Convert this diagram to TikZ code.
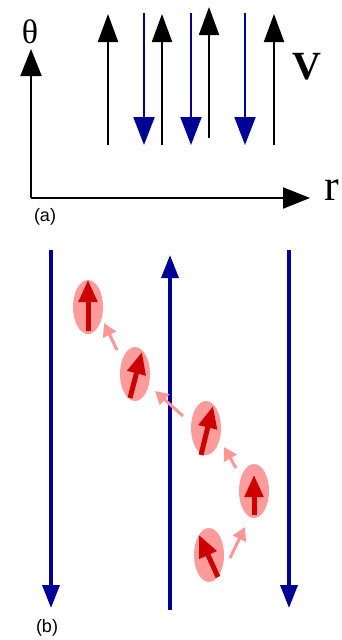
\documentclass[tikz,border=0pt]{standalone}
\usepackage{fontspec}
\setmainfont{Liberation Serif}
\newfontfamily\panelfont{Liberation Sans}
\usetikzlibrary{arrows.meta, shapes.geometric, calc}
\definecolor{fieldblue}{RGB}{0,0,150}
\definecolor{spinred}{RGB}{204,0,0}
\definecolor{spinpink}{RGB}{255,155,155}
\definecolor{hoppink}{RGB}{255,150,150}

\begin{document}
\begin{tikzpicture}[x=1pt, y=-1pt,
    axis/.style={line width=2pt, -{Triangle[length=27pt,width=21pt]}},
    vup/.style={line width=2pt, -{Triangle[length=28pt,width=20pt]}},
    vdown/.style={line width=2pt, fieldblue, -{Triangle[length=28pt,width=21pt]}},
    field/.style={line width=3.5pt, fieldblue, -{Triangle[length=23pt,width=17pt]}},
    spin/.style={ellipse, fill=spinpink, minimum width=30pt, minimum height=54pt, inner sep=0pt},
    spinarrow/.style={line width=5pt, spinred, -{Triangle[length=22pt,width=18pt]}},
    hop/.style={line width=3pt, hoppink, -{Triangle[length=13pt,width=14pt]}},
    biglabel/.style={font=\fontsize{38}{38}\selectfont, inner sep=0pt},
    panel/.style={font=\panelfont\fontsize{18}{18}\selectfont, inner sep=0pt}
]
    \useasboundingbox (0,0) rectangle (341,640);

    % (a) axes and velocities
    \coordinate (O) at (31,198);
    \coordinate (thtip) at (31,49);
    \coordinate (rtip) at (310,198);
    \draw[axis] (O) -- (thtip);
    \draw[axis] (O) -- (rtip);
    \node[biglabel, font=\fontsize{34}{34}\selectfont] (theta) at (30,32) {θ};
    \node[biglabel, font=\fontsize{44}{44}\selectfont] (r) at (332,190) {r};
    \node[biglabel, font=\fontsize{40}{40}\selectfont\bfseries] (V) at (307,67) {V};
    \node[panel] (a) at (45,217) {(a)};

    \foreach \x/\t/\b in {108/14/145, 162/14/145, 209/7/138, 274/14/145}
        \draw[vup] (\x,\b) -- (\x,\t);
    \foreach \x in {144, 191, 245}
        \draw[vdown] (\x,13) -- (\x,145);

    % (b) field lines
    \draw[field] (51,250) -- (51,608);
    \draw[field] (170,610) -- (170,255);
    \draw[field] (289,250) -- (289,608);

    % spins
    \node[spin] (s1) at (88,307) {};
    \node[spin] (s2) at (135,374) {};
    \node[spin] (s3) at (206,428) {};
    \node[spin] (s4) at (254,491) {};
    \node[spin] (s5) at (209,555) {};

    \draw[spinarrow] ($(s1)+(0,24)$) -- ($(s1)+(0,-27)$);
    \draw[spinarrow] ($(s2)+(-5,24)$) -- ($(s2)+(7,-22)$);
    \draw[spinarrow] ($(s3)+(-5,27)$) -- ($(s3)+(7,-22)$);
    \draw[spinarrow] ($(s4)+(0,24)$) -- ($(s4)+(0,-16)$);
    \draw[spinarrow] ($(s5)+(9,22)$) -- ($(s5)+(-10,-20)$);

    % hops
    \draw[hop] (230,558) -- (245,527);
    \draw[hop] (236,468) -- (224,447);
    \draw[hop] (183,416) -- (155,391);
    \draw[hop] (117,350) -- (104,323);

    \node[panel] (b) at (47,628) {(b)};
\end{tikzpicture}
\end{document}
